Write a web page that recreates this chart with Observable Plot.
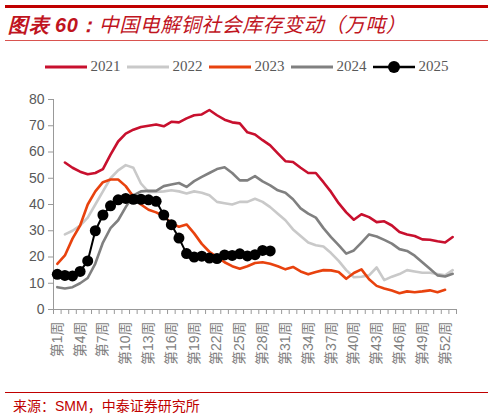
<!DOCTYPE html>
<html>
<head>
<meta charset="utf-8">
<script src="https://cdn.jsdelivr.net/npm/d3@7"></script>
<script src="https://cdn.jsdelivr.net/npm/@observablehq/plot@0.6"></script>
<style>
  body { margin: 0; background: #fff; width: 493px; height: 416px; position: relative; overflow: hidden; }
  .rule { position: absolute; left: 5px; width: 483px; background: #c00000; }
  #title { position: absolute; left: 8px; top: 9px; font-family: "Noto Sans CJK SC", sans-serif; font-style: italic;
    font-size: 20px; color: #c0141e; white-space: nowrap; letter-spacing: 0.5px; }
  #title b { font-family: "Liberation Sans", sans-serif; font-weight: bold; }
  #legend { position: absolute; top: 58px; left: 0; width: 493px; display: flex; justify-content: center; gap: 6px;
    font-family: "Liberation Serif", serif; font-size: 15px; color: #595959; }
  #legend .item { display: flex; align-items: center; gap: 4px; }
  #chart { position: absolute; top: 84px; left: 0; }
  #source { position: absolute; left: 13px; top: 395px; font-family: "Noto Sans CJK SC", sans-serif; font-size: 14px; color: #c00000; white-space: nowrap; }
  #source span { font-family: "Liberation Sans", sans-serif; }
</style>
</head>
<body>
<div class="rule" style="top:5px;height:3px"></div>
<div id="title"><b>图表 60：</b>中国电解铜社会库存变动（万吨）</div>
<div class="rule" style="top:40px;height:1px;background:#d9534f"></div>
<div id="legend"></div>
<div id="chart"></div>
<div class="rule" style="top:392px;height:1px"></div>
<div id="source">来源：<span>SMM</span>，中泰证券研究所</div>
<script>
const weeks = d3.range(1, 54);
const labelWeeks = [1, 4, 7, 10, 13, 16, 19, 22, 25, 28, 31, 34, 37, 40, 43, 46, 49, 52];
const years = ["2021", "2022", "2023", "2024", "2025"];
const colors = ["#c8102e", "#c9c9c9", "#e8420e", "#808080", "#000000"];

const v2021 = [null, 56, 54, 52.5, 51.5, 52, 53.5, 59, 64, 67, 68.5, 69.5, 70, 70.5, 69.8, 71.5, 71.3, 72.8, 74, 74.3,
  76, 74, 72.3, 71.3, 70.9, 67.5, 66.7, 64.5, 62.5, 59.5, 56.5, 56.2, 54, 52, 52, 48.5, 44.8, 40.5, 37, 34.2,
  36.3, 35.2, 33.3, 33.6, 32, 29.5, 28.6, 28, 26.7, 26.6, 26, 25.5, 27.6];
const v2022 = [null, 28.6, 30, 32, 35, 40, 45, 50, 53, 55, 54, 48, 44.8, 44.8, 45, 45.4, 45, 44.2, 45, 44.5,
  43.5, 41, 40.5, 40, 41, 41, 42.2, 41, 39, 36.5, 34, 30.5, 28, 25.5, 24.5, 24, 21.5, 18.5, 15, 12.3,
  12.5, 13, 16, 11.2, 12.5, 13.5, 15, 14.5, 14, 14, 13.5, 13, 15];
const v2023 = [17.4, 20.6, 27, 32, 40, 45, 48.5, 49.5, 49.5, 47, 43, 40, 38, 37, 35.5, 33, 31.5, 32.4, 29, 25,
  22, 20, 18, 16.5, 15.5, 16.5, 17.7, 18, 17.4, 16.5, 15.3, 16.2, 14.5, 13.4, 14.3, 15, 14.9, 14.3, 11.7, 13.9,
  15.3, 11.5, 9, 8, 7.2, 6.2, 6.9, 6.6, 6.9, 7.3, 6.6, 7.5, null];
const v2024 = [8.5, 8, 8.5, 10, 12, 17.5, 25.5, 31, 34, 39, 43.5, 45, 45.2, 45.2, 47, 47.6, 48.2, 46.7, 48.9, 50.5,
  52, 53.5, 54.2, 52, 49.2, 49.2, 50.8, 48.8, 47.3, 45.4, 44.5, 42, 38.5, 36.5, 35, 31, 27.6, 24.5, 21.3, 22.5,
  25.5, 28.6, 27.8, 26.5, 25.1, 23, 22.3, 20.5, 18, 15.5, 13, 12.6, 13.6];
const v2025 = [13.4, 13, 12.8, 14.5, 18.5, 30, 36, 39.5, 41.8, 42.3, 42, 42, 41.8, 41.2, 36, 32.3, 27.2, 21.3, 20, 20.3,
  19.6, 19.4, 20.8, 20.6, 21.2, 20.4, 20.9, 22.5, 22.3];

const valuesByYear = [v2021, v2022, v2023, v2024, v2025];
const rows = valuesByYear.map(vals => weeks.map((w, i) => ({week: w, value: vals[i]})).filter(d => d.value != null));

// legend above the chart
const legend = d3.select("#legend");
years.forEach((y, i) => {
  const item = legend.append("div").attr("class", "item");
  const sw = item.append("svg").attr("width", 42).attr("height", 14);
  sw.append("line").attr("x1", 0).attr("x2", 42).attr("y1", 7).attr("y2", 7)
    .attr("stroke", colors[i]).attr("stroke-width", i == 4 ? 2.5 : 3);
  if (i == 4) sw.append("circle").attr("cx", 21).attr("cy", 7).attr("r", 6).attr("fill", "#000");
  item.append("span").text(y);
});

const lineMarks = rows.map((r, i) => Plot.line(r, {x: "week", y: "value", stroke: colors[i], strokeWidth: i == 4 ? 2 : 2.6}));

const chart = Plot.plot({
  width: 493,
  height: 305,
  marginLeft: 53,
  marginRight: 37,
  marginTop: 15,
  marginBottom: 80,
  x: {type: "linear", domain: [0.5, 53.5]},
  y: {domain: [0, 80]},
  style: {fontFamily: "'Liberation Sans', 'Noto Sans CJK SC', sans-serif", fontSize: "14px", color: "#595959", background: "transparent"},
  marks: [
    Plot.axisY({ticks: d3.range(0, 81, 10), tickSize: 5, tickPadding: 4, stroke: "#999", fill: "#595959", label: null}),
    Plot.axisX({ticks: weeks.map(w => w - 0.5).concat([53.5]), tickSize: 5, tickFormat: () => "", stroke: "#999", label: null}),
    Plot.axisX({ticks: labelWeeks, tickSize: 0, tickPadding: 12, tickRotate: -90, tickFormat: d => `第${d}周`,
      fill: "#7f7f7f", fontSize: 14, label: null}),
    Plot.ruleX([0.5], {stroke: "#999"}),
    Plot.ruleY([0], {stroke: "#999"}),
    ...lineMarks,
    Plot.dot(rows[4], {x: "week", y: "value", r: 5.5, fill: "#000"})
  ]
});
document.getElementById("chart").append(chart);
</script>
</body>
</html>
